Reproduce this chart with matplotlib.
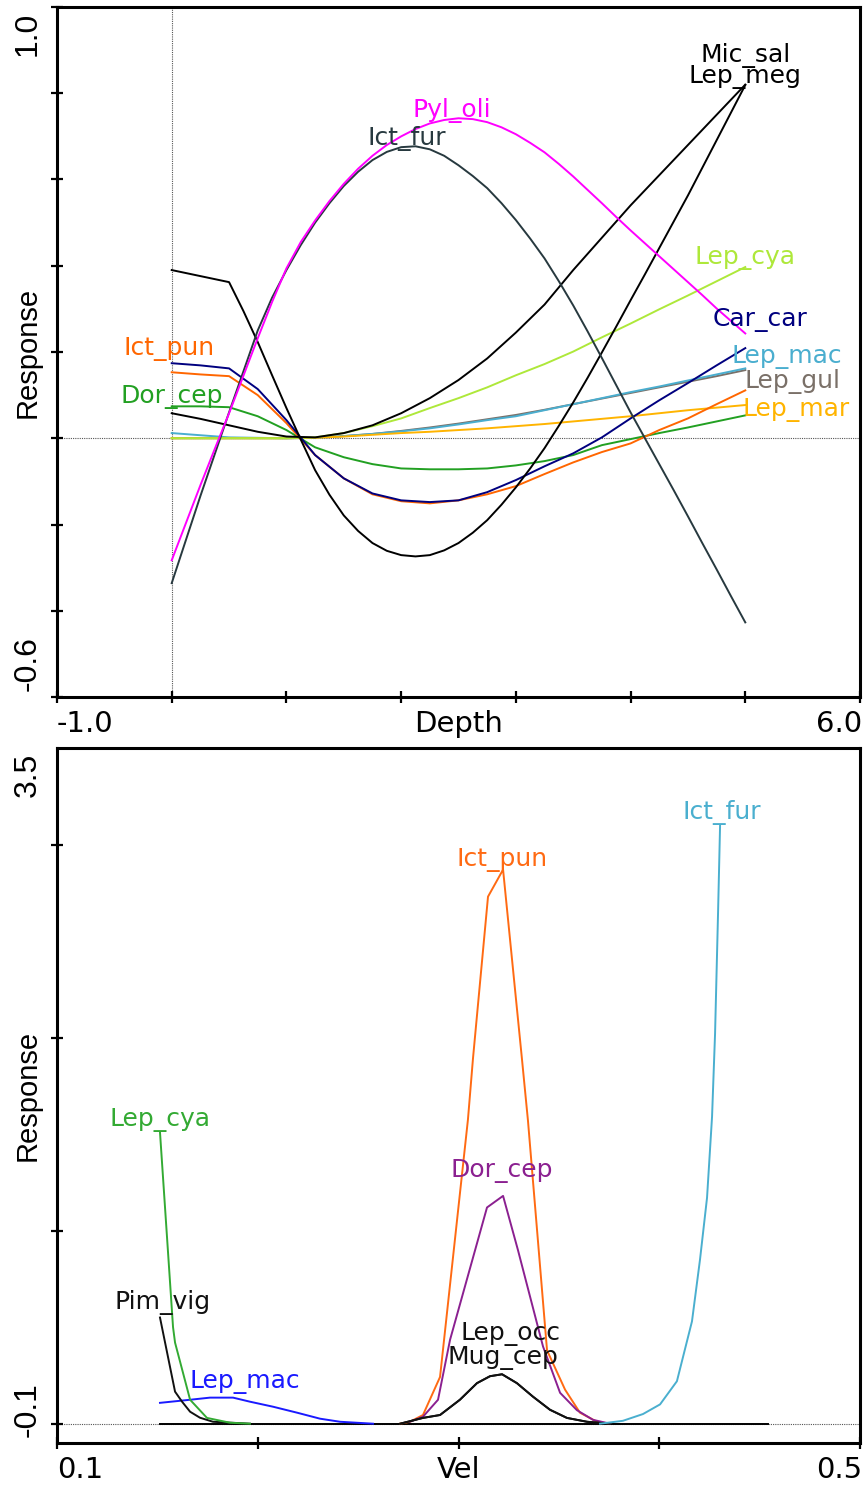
import matplotlib
matplotlib.use("Agg")
import matplotlib.pyplot as plt

# ---- Depth response curves ----
depth = [0.0, 0.25, 0.5, 0.75, 1.0, 1.25, 1.5, 1.75, 2.0, 2.25, 2.5,
         2.75, 3.0, 3.25, 3.5, 3.75, 4.0, 4.25, 4.5, 4.75, 5.0]
# finer steps for the strongly bent curves
depth_fine = [i * 0.125 for i in range(41)]

pyl_oli = [-0.283, -0.196, -0.109, -0.025, 0.058, 0.145, 0.232, 0.316, 0.394, 0.455,
           0.505, 0.550, 0.590, 0.625, 0.655, 0.680, 0.700, 0.717, 0.730, 0.738,
           0.742, 0.740, 0.733, 0.721, 0.705, 0.685, 0.663, 0.636, 0.607, 0.576,
           0.545, 0.513, 0.482, 0.452, 0.422, 0.392, 0.362, 0.332, 0.301, 0.272, 0.243]
ict_fur = [-0.336, -0.235, -0.134, -0.037, 0.060, 0.155, 0.250, 0.326, 0.390, 0.448,
           0.500, 0.545, 0.585, 0.618, 0.645, 0.664, 0.675, 0.677, 0.670, 0.655,
           0.633, 0.608, 0.580, 0.545, 0.506, 0.463, 0.417, 0.364, 0.308, 0.248,
           0.186, 0.123, 0.060, 0.000, -0.060, -0.120, -0.181, -0.243, -0.304, -0.366, -0.427]
lep_meg = [0.390, 0.383, 0.376, 0.369, 0.362, 0.295, 0.223, 0.146, 0.070, -0.003,
           -0.074, -0.131, -0.179, -0.215, -0.243, -0.261, -0.271, -0.274, -0.271, -0.260,
           -0.243, -0.219, -0.190, -0.154, -0.114, -0.070, -0.023, 0.029, 0.083, 0.140,
           0.199, 0.259, 0.320, 0.380, 0.441, 0.502, 0.563, 0.627, 0.691, 0.755, 0.819]

mic_sal = [0.058, 0.045, 0.030, 0.015, 0.004, 0.002, 0.012, 0.030, 0.058, 0.093, 0.135,
           0.185, 0.245, 0.310, 0.390, 0.465, 0.540, 0.610, 0.680, 0.750, 0.820]
car_car = [0.174, 0.169, 0.162, 0.114, 0.042, -0.039, -0.093, -0.128, -0.144, -0.148, -0.144,
           -0.125, -0.097, -0.065, -0.035, 0.002, 0.046, 0.088, 0.128, 0.169, 0.209]
ict_pun = [0.153, 0.148, 0.144, 0.100, 0.035, -0.039, -0.093, -0.130, -0.146, -0.151, -0.144,
           -0.130, -0.111, -0.083, -0.056, -0.032, -0.012, 0.019, 0.046, 0.079, 0.111]
dor_cep = [0.074, 0.074, 0.072, 0.051, 0.019, -0.021, -0.044, -0.060, -0.070, -0.072, -0.072,
           -0.070, -0.063, -0.053, -0.039, -0.016, -0.002, 0.012, 0.025, 0.039, 0.053]
lep_cya = [0.0, 0.0, 0.0, 0.0, 0.0, 0.002, 0.012, 0.028, 0.046, 0.070, 0.093,
           0.118, 0.146, 0.172, 0.201, 0.234, 0.266, 0.299, 0.331, 0.364, 0.397]
lep_mac = [0.012, 0.007, 0.002, 0.001, 0.0, 0.001, 0.005, 0.010, 0.016, 0.023, 0.032,
           0.042, 0.051, 0.065, 0.079, 0.093, 0.107, 0.120, 0.134, 0.148, 0.162]
lep_gul = [0.0, 0.0, 0.0, 0.0, 0.0, 0.001, 0.005, 0.010, 0.017, 0.025, 0.034,
           0.044, 0.054, 0.066, 0.079, 0.092, 0.105, 0.118, 0.131, 0.144, 0.158]
lep_mar = [0.0, 0.0, 0.0, 0.0, 0.0, 0.001, 0.004, 0.008, 0.012, 0.015, 0.019,
           0.023, 0.028, 0.033, 0.039, 0.045, 0.051, 0.058, 0.065, 0.071, 0.077]

# name, x, values, colour, label position
depth_species = [
    ("Lep_gul", depth, lep_gul, "#7a7068", (5.41, 0.132)),
    ("Lep_mac", depth, lep_mac, "#4aaecf", (5.36, 0.188)),
    ("Lep_mar", depth, lep_mar, "#ffb400", (5.44, 0.065)),
    ("Lep_cya", depth, lep_cya, "#aee83a", (5.00, 0.417)),
    ("Dor_cep", depth, dor_cep, "#22a022", (0.00, 0.095)),
    ("Ict_pun", depth, ict_pun, "#ff6600", (-0.02, 0.206)),
    ("Car_car", depth, car_car, "#00007f", (5.13, 0.274)),
    ("Mic_sal", depth, mic_sal, "#000000", (5.00, 0.888)),
    ("Lep_meg", depth_fine, lep_meg, "#000000", (5.00, 0.837)),
    ("Ict_fur", depth_fine, ict_fur, "#27393f", (2.05, 0.696)),
    ("Pyl_oli", depth_fine, pyl_oli, "#ff00ff", (2.44, 0.760)),
]

# ---- Velocity response curves ----
v_lep_cya = [0.1513, 0.1578, 0.1588, 0.1663, 0.1747, 0.1862, 0.1961]
r_lep_cya = [1.51, 0.50, 0.42, 0.124, 0.030, 0.005, 0.0]

v_pim_vig = [0.1513, 0.1588, 0.1623, 0.1663, 0.1712, 0.1777, 0.1961]
r_pim_vig = [0.55, 0.166, 0.114, 0.062, 0.031, 0.010, 0.0]

v_lep_mac = [0.1513, 0.1663, 0.1762, 0.1877, 0.1961, 0.2076, 0.2196, 0.2310, 0.2410, 0.2574]
r_lep_mac = [0.108, 0.124, 0.135, 0.135, 0.114, 0.088, 0.057, 0.026, 0.010, 0.0]

v_ict_pun = [0.2709, 0.2758, 0.2823, 0.2908, 0.3047, 0.3072, 0.3147, 0.3222, 0.3316,
             0.3346, 0.3441, 0.3531, 0.3605, 0.3690, 0.3755]
r_ict_pun = [0.0, 0.010, 0.045, 0.242, 1.575, 1.89, 2.73, 2.87, 1.89,
             1.57, 0.38, 0.176, 0.057, 0.010, 0.0]

v_dor_cep = [0.2758, 0.2823, 0.2898, 0.2958, 0.3142, 0.3222, 0.3296, 0.3421,
             0.3506, 0.3590, 0.3670, 0.3755]
r_dor_cep = [0.010, 0.036, 0.124, 0.435, 1.12, 1.18, 0.90, 0.40,
             0.16, 0.07, 0.02, 0.0]

v_lep_occ = [0.2709, 0.2823, 0.2908, 0.3007, 0.3092, 0.3157, 0.3217, 0.3291, 0.3371,
             0.3456, 0.3540, 0.3640, 0.3755]
r_lep_occ = [0.0, 0.030, 0.045, 0.124, 0.210, 0.246, 0.256, 0.210, 0.140,
             0.072, 0.030, 0.010, 0.0]
r_mug_cep = r_lep_occ

v_ict_fur = [0.3705, 0.3819, 0.3919, 0.4004, 0.4088, 0.4163, 0.4203, 0.4238,
             0.4263, 0.4278, 0.4293, 0.4303]
r_ict_fur = [0.0, 0.015, 0.05, 0.10, 0.22, 0.53, 0.85, 1.17, 1.59, 2.02, 2.65, 3.10]

# species with no response along the velocity gradient
v_flat = [0.1513, 0.4542]
r_flat = [0.0, 0.0]

vel_species = [
    ("", v_flat, r_flat, "#000000", None),
    ("Lep_mac", v_lep_mac, r_lep_mac, "#1a1aff", (0.1937, 0.218)),
    ("Pim_vig", v_pim_vig, r_pim_vig, "#111111", (0.1528, 0.627)),
    ("Lep_cya", v_lep_cya, r_lep_cya, "#33aa33", (0.1513, 1.575)),
    ("Ict_pun", v_ict_pun, r_ict_pun, "#ff6a13", (0.3217, 2.92)),
    ("Dor_cep", v_dor_cep, r_dor_cep, "#8b2090", (0.3217, 1.31)),
    ("Lep_occ", v_lep_occ, r_lep_occ, "#111111", (0.3257, 0.466)),
    ("Mug_cep", v_lep_occ, r_mug_cep, "#111111", (0.3222, 0.342)),
    ("Ict_fur", v_ict_fur, r_ict_fur, "#4aafcf", (0.4313, 3.166)),
]

W, H = 864, 1486
fig = plt.figure(figsize=(W / 100, H / 100), dpi=100)
ax1 = fig.add_axes([57 / W, 1 - 697 / H, 803 / W, 690 / H])
ax2 = fig.add_axes([57 / W, 1 - 1443 / H, 803 / W, 695 / H])

TICK_FS = 21
LAB_FS = 18
VFONT = ["Liberation Sans", "DejaVu Sans"]


def frame(ax, xlim, ylim, xticks, yticks, xlab, xlo, xhi, ylo, yhi):
    ax.set_xlim(*xlim)
    ax.set_ylim(*ylim)
    for s in ax.spines.values():
        s.set_linewidth(2.2)
    ax.set_xticks(xticks)
    ax.set_yticks(yticks)
    ax.set_xticklabels([])
    ax.set_yticklabels([])
    ax.tick_params(direction="inout", length=8, width=1.6)
    ax.axhline(0, color="#555555", lw=0.8, ls=(0, (1, 1)), zorder=1)
    kw = dict(xycoords="axes fraction", textcoords="offset pixels")
    ax.annotate(xlo, (0, 0), xytext=(0, -13), ha="left", va="top", fontsize=TICK_FS, **kw)
    ax.annotate(xhi, (1, 0), xytext=(2, -13), ha="right", va="top", fontsize=TICK_FS, **kw)
    ax.annotate(xlab, (0.5, 0), xytext=(0, -13), ha="center", va="top", fontsize=TICK_FS, **kw)
    # vertical axis numbers and title are drawn rotated
    ax.annotate(yhi, (0, 1), xytext=(-29, -5), ha="center", va="top", rotation=90,
                fontsize=23, family=VFONT, **kw)
    ax.annotate(ylo, (0, 0), xytext=(-29, 6), ha="center", va="bottom", rotation=90,
                fontsize=23, family=VFONT, **kw)
    ax.annotate("Response", (0, 0.5), xytext=(-29, 0), ha="center", va="center",
                rotation=90, fontsize=21, family=VFONT, **kw)


frame(ax1, (-1, 6), (-0.6, 1.0), range(-1, 7), [-0.6 + 0.2 * i for i in range(9)],
      "Depth", "-1.0", "6.0", "-0.6", "1.0")
ax1.axvline(0, color="#555555", lw=0.8, ls=(0, (1, 1)), zorder=1)

for name, xs, vals, col, pos in depth_species:
    ax1.plot(xs, vals, color=col, lw=1.4, zorder=3)
    ax1.text(pos[0], pos[1], name, color=col, fontsize=LAB_FS, ha="center", va="center",
             zorder=4)

frame(ax2, (0.1, 0.5), (-0.1, 3.5), [0.1, 0.2, 0.3, 0.4, 0.5], [0, 1, 2, 3],
      "Vel", "0.1", "0.5", "-0.1", "3.5")

for name, xs, ys, col, pos in vel_species:
    ax2.plot(xs, ys, color=col, lw=1.4, zorder=3)
    if pos is not None:
        ax2.text(pos[0], pos[1], name, color=col, fontsize=LAB_FS, ha="center",
                 va="center", zorder=4)

fig.savefig("out.png", dpi=100)
